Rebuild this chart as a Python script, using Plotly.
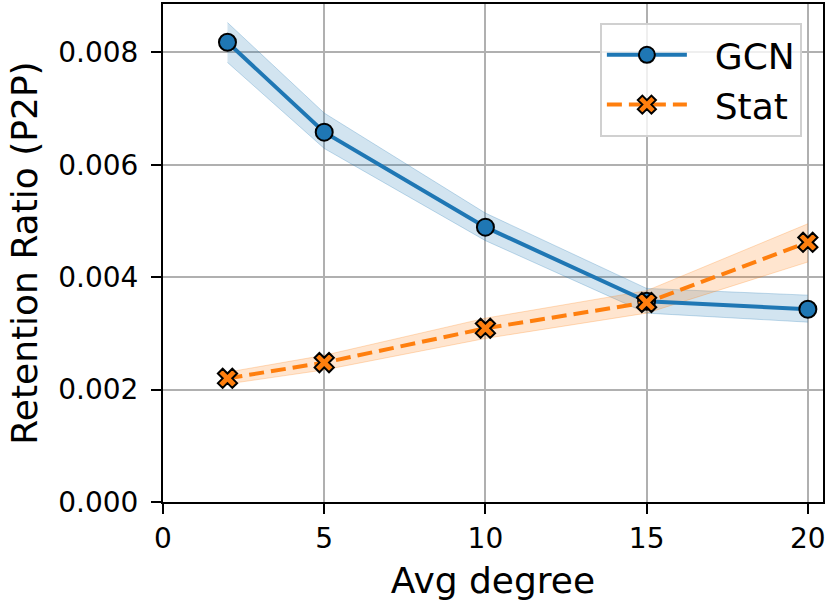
import plotly.graph_objects as go

x_deg = [2, 5, 10, 15, 20]
gcn_mean = [0.00818, 0.00658, 0.00489, 0.00357, 0.00343]
gcn_low = [0.00782, 0.00629, 0.00465, 0.00336, 0.00320]
gcn_high = [0.00853, 0.00692, 0.00514, 0.00380, 0.00368]
stat_mean = [0.00220, 0.00248, 0.00309, 0.00355, 0.00462]
stat_low = [0.00210, 0.00235, 0.00291, 0.00336, 0.00427]
stat_high = [0.00231, 0.00261, 0.00327, 0.00376, 0.00495]

x_ticks = [0, 5, 10, 15, 20]
y_ticks = [0.0, 0.002, 0.004, 0.006, 0.008]
y_tick_text = ["0.000", "0.002", "0.004", "0.006", "0.008"]
series_names = ["GCN", "Stat"]

BLUE = "#1f77b4"
ORANGE = "#ff7f0e"
FONT = "DejaVu Sans"
PAD = "\u00a0\u00a0"

fig = go.Figure()

# bands
fig.add_trace(go.Scatter(x=x_deg, y=gcn_low, mode="lines",
                         line=dict(color="rgba(31,119,180,0.25)", width=1),
                         showlegend=False, hoverinfo="skip"))
fig.add_trace(go.Scatter(x=x_deg, y=gcn_high, mode="lines", fill="tonexty",
                         fillcolor="rgba(31,119,180,0.2)",
                         line=dict(color="rgba(31,119,180,0.25)", width=1),
                         showlegend=False, hoverinfo="skip"))
fig.add_trace(go.Scatter(x=x_deg, y=stat_low, mode="lines",
                         line=dict(color="rgba(255,127,14,0.25)", width=1),
                         showlegend=False, hoverinfo="skip"))
fig.add_trace(go.Scatter(x=x_deg, y=stat_high, mode="lines", fill="tonexty",
                         fillcolor="rgba(255,127,14,0.2)",
                         line=dict(color="rgba(255,127,14,0.25)", width=1),
                         showlegend=False, hoverinfo="skip"))

# main lines
fig.add_trace(go.Scatter(x=x_deg, y=gcn_mean, mode="lines+markers",
                         name=PAD + series_names[0], legendgroup="g1",
                         line=dict(color=BLUE, width=4),
                         marker=dict(symbol="circle", size=17, color=BLUE,
                                     line=dict(color="black", width=2))))
fig.add_trace(go.Scatter(x=x_deg, y=stat_mean, mode="lines+markers",
                         name=PAD + series_names[1], legendgroup="g2",
                         line=dict(color=ORANGE, width=4, dash="15px,7px"),
                         marker=dict(symbol="x", size=17, color=ORANGE,
                                     line=dict(color="black", width=2))))

axis_common = dict(
    showline=True, linecolor="black", linewidth=2, mirror=True,
    ticks="outside", ticklen=10, tickwidth=2, tickcolor="black",
    showgrid=True, gridcolor="#b0b0b0", gridwidth=2,
    zeroline=False,
    tickfont=dict(family=FONT, size=28, color="black"),
)

fig.update_xaxes(range=[0, 20.47], tickvals=x_ticks,
                 title=dict(text="Avg degree", font=dict(family=FONT, size=36, color="black"),
                            standoff=14),
                 **axis_common)
fig.update_yaxes(range=[0, 0.00886], tickvals=y_ticks, ticktext=y_tick_text,
                 ticklabelstandoff=7,
                 title=dict(text="Retention Ratio (P2P)", font=dict(family=FONT, size=36, color="black"),
                            standoff=10),
                 **axis_common)

fig.update_layout(
    width=832, height=606,
    margin=dict(l=163, r=9, t=4, b=104, autoexpand=False),
    plot_bgcolor="white", paper_bgcolor="white",
    font=dict(family=FONT, color="black"),
    legend=dict(x=0.968, y=0.962, xanchor="right", yanchor="top",
                bgcolor="rgba(255,255,255,0.8)", bordercolor="#d0d0d0", borderwidth=2,
                font=dict(family=FONT, size=36, color="black"),
                traceorder="normal", itemwidth=80, tracegroupgap=10),
)

fig.write_html("out.html", config={"displayModeBar": False},
               post_script="document.body.style.margin='0px';")
